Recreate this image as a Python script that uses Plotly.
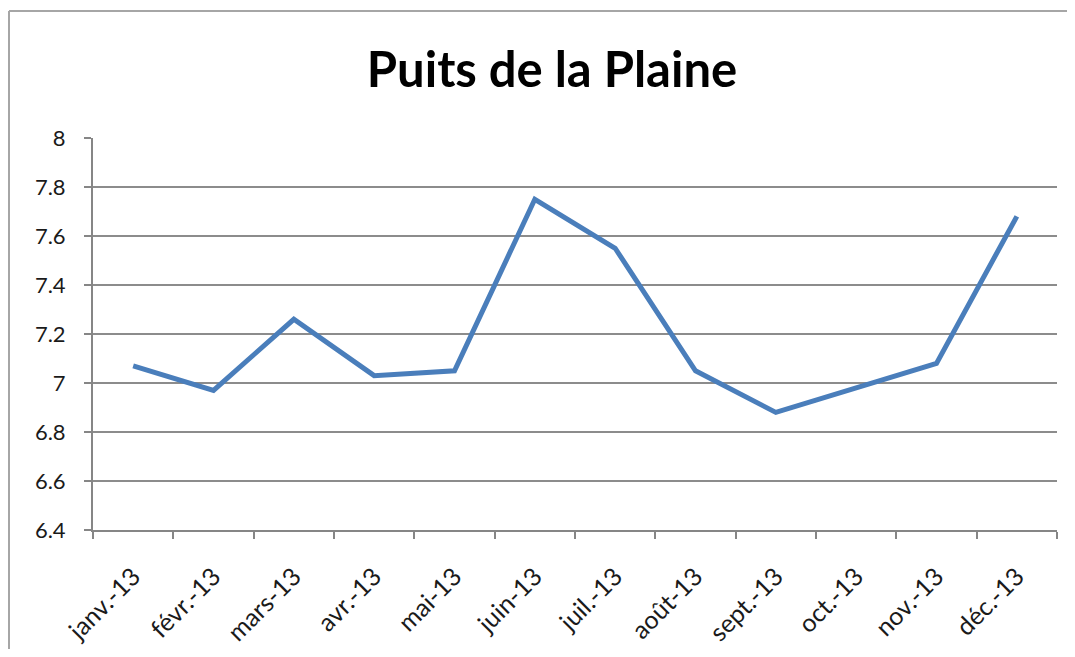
import plotly.graph_objects as go

months = ["janv.-13", "févr.-13", "mars-13", "avr.-13", "mai-13", "juin-13",
          "juil.-13", "août-13", "sept.-13", "oct.-13", "nov.-13", "déc.-13"]
values = [7.07, 6.97, 7.26, 7.03, 7.05, 7.75, 7.55, 7.05, 6.88, 6.98, 7.08, 7.68]
y_ticks = [6.4, 6.6, 6.8, 7, 7.2, 7.4, 7.6, 7.8, 8]
y_tick_labels = ["6.4", "6.6", "6.8", "7", "7.2", "7.4", "7.6", "7.8", "8"]

# page body has an 8px margin; figure is placed at (8, 8)
OFF = 8
W, H = 1075 - 2 * OFF, 657 - 2 * OFF
L, T = 93 - OFF, 138 - OFF
R = W - (1057 - OFF)
B = H - (530 - OFF)
pw, ph = W - L - R, H - T - B

fig = go.Figure()
fig.add_trace(go.Scatter(x=months, y=values, mode="lines",
                         line=dict(color="#4A7EBB", width=5), showlegend=False))

def px_x(x):
    return (x - L) / pw

def px_y(y):
    return (H - B - y) / ph

border = dict(color="#A6A6A6", width=2)
fig.add_shape(type="line", xref="paper", yref="paper",
              x0=px_x(1), y0=px_y(3), x1=px_x(W + 5), y1=px_y(3), line=border)
fig.add_shape(type="line", xref="paper", yref="paper",
              x0=px_x(1), y0=px_y(3), x1=px_x(1), y1=px_y(H + 5), line=border)

fig.update_layout(
    width=W, height=H,
    margin=dict(l=L, r=R, t=T, b=B, autoexpand=False),
    paper_bgcolor="white", plot_bgcolor="white",
    title=dict(text="<b>Puits de la Plaine</b>", x=(552 - OFF) / W, xanchor="center",
               y=1 - (70 - OFF) / H, yanchor="middle",
               font=dict(family="Lato", size=49, color="black")),
    font=dict(family="Lato", size=22, color="#1a1a1a"),
    xaxis=dict(type="category", tickson="boundaries", ticks="outside", ticklen=7,
               tickcolor="#868686", tickwidth=2, showline=True, linecolor="#868686",
               linewidth=2, showgrid=False, tickangle=-45, automargin=False,
               ticklabelstandoff=20,
               tickfont=dict(family="Lato", size=25, color="#1a1a1a"),
               range=[-0.5, 11.5]),
    yaxis=dict(range=[6.4, 8], tickvals=y_ticks, ticktext=y_tick_labels,
               ticks="outside", ticklen=7, tickcolor="#868686", tickwidth=2,
               ticklabelstandoff=14, automargin=False,
               showline=True, linecolor="#868686", linewidth=2,
               showgrid=True, gridcolor="#8C8C8C", gridwidth=1.5,
               zeroline=False, tickfont=dict(family="Lato", size=22, color="#1a1a1a")),
)

fig.write_html("out.html")
